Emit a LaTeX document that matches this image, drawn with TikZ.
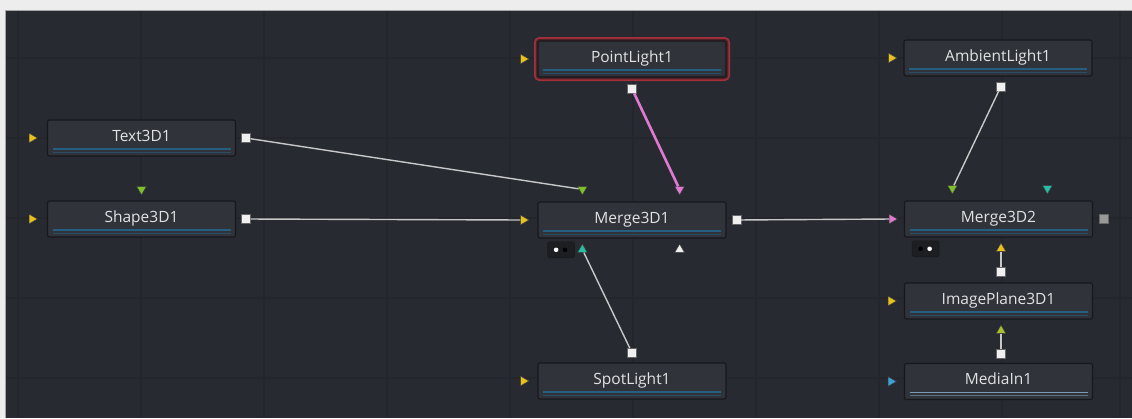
\documentclass[tikz,border=0pt]{standalone}
\usepackage{fontspec}
\setmainfont{Open Sans}
\usetikzlibrary{positioning,shapes.geometric,calc}
\definecolor{frame}{HTML}{EDEDED}
\definecolor{panel}{HTML}{272A31}
\definecolor{gridline}{HTML}{24262C}
\definecolor{nodefill}{HTML}{30333A}
\definecolor{nodeedge}{HTML}{17181C}
\definecolor{viewfill}{HTML}{1D1E22}
\definecolor{nodetext}{HTML}{E2E2E2}
\definecolor{toolbar}{HTML}{245E80}
\definecolor{mediabar}{HTML}{7C9AB4}
\definecolor{selred}{HTML}{A0303A}
\definecolor{linkgray}{HTML}{C8C8C8}
\definecolor{portyellow}{HTML}{E8C11C}
\definecolor{portgreen}{HTML}{7CC02A}
\definecolor{portpink}{HTML}{E07AD0}
\definecolor{portteal}{HTML}{26BFA4}
\definecolor{portlime}{HTML}{A8C030}
\definecolor{portblue}{HTML}{3AA0D8}

\begin{document}
\begin{tikzpicture}[x=1pt, y=-1pt,
  tool/.style={rectangle, rounded corners=2pt, draw=nodeedge, line width=1.2pt, fill=nodefill,
    minimum width=188pt, minimum height=36pt, text=nodetext, text height=11pt, text depth=5pt,
    font=\fontsize{15.5}{17}\selectfont,
    path picture={\draw[#1, line width=1.8pt] ([xshift=5pt,yshift=7pt]path picture bounding box.south west) -- ([xshift=-5pt,yshift=7pt]path picture bounding box.south east);
                  \draw[#1!60!nodefill, line width=0.8pt] ([xshift=5pt,yshift=4pt]path picture bounding box.south west) -- ([xshift=-5pt,yshift=4pt]path picture bounding box.south east);}},
  tool/.default=toolbar,
  selected/.style={preaction={draw=selred, line width=8pt}, preaction={draw=nodeedge!60!selred, line width=4.5pt}},
  port/.style={regular polygon, regular polygon sides=3, minimum size=11pt, inner sep=0pt, fill=#1, draw=black!75, line width=0.5pt},
  inport/.style={port=#1, shape border rotate=-90},
  downport/.style={port=#1, shape border rotate=180},
  upport/.style={port=#1},
  outport/.style={rectangle, minimum size=9pt, inner sep=0pt, fill=#1, draw=black!60, line width=0.4pt},
  outport/.default=white!94!black,
  viewbox/.style 2 args={rectangle, rounded corners=1.5pt, fill=viewfill, draw=nodeedge, minimum width=27pt, minimum height=16pt,
    path picture={\fill[#1] ([xshift=-5pt]path picture bounding box.center) circle (2.3pt);
                  \fill[#2] ([xshift=4pt]path picture bounding box.center) circle (2.3pt);}},
  link/.style={draw=linkgray, line width=1.4pt},
  lightlink/.style={draw=portpink, line width=2.6pt}
]
\useasboundingbox (0,0) rectangle (1132,418);
\fill[frame] (0,0) rectangle (1132,418);
\fill[panel] (5,10) rectangle (1132,418);
\draw[black!35, line width=0.8pt] (5,418) -- (5,10) -- (1132,10);
\foreach \gx in {18,141,264,387,510,633,756,879,1002,1120}
  \draw[gridline, line width=2pt] (\gx,11) -- (\gx,418);
\foreach \gy in {58,138,218,298,378}
  \draw[gridline, line width=2pt] (6,\gy) -- (1132,\gy);

% tools
\node[tool] (text) at (141.5,138) {Text3D1};
\node[tool] (shape) at (141.5,219) {Shape3D1};
\node[tool, selected] (point) at (632,59) {PointLight1};
\node[tool] (merge1) at (632,220) {Merge3D1};
\node[tool] (spot) at (632,381) {SpotLight1};
\node[tool] (ambient) at (998,58) {AmbientLight1};
\node[tool] (merge2) at (998.5,219) {Merge3D2};
\node[tool] (image) at (998.5,301) {ImagePlane3D1};
\node[tool=mediabar] (media) at (998.5,381.5) {MediaIn1};

% ports
\node[inport=portyellow, left=9pt of text] (text-in) {};
\node[outport, right=5pt of text] (text-out) {};
\node[inport=portyellow, left=9pt of shape] (shape-in) {};
\node[outport, right=5pt of shape] (shape-out) {};
\node[downport=portgreen, above=5pt of shape] (shape-top) {};

\node[inport=portyellow, left=8pt of point] (point-in) {};
\node[outport, below=6.5pt of point] (point-out) {};

\node[inport=portyellow, left=8pt of merge1] (merge1-bg) {};
\node[downport=portgreen, above=6pt of merge1.north west, xshift=45pt] (merge1-fg) {};
\node[downport=portpink, above=6pt of merge1.north east, xshift=-47pt] (merge1-lt) {};
\node[upport=portteal, below=5pt of merge1.south west, xshift=45pt] (merge1-sp) {};
\node[upport=white!94!black, below=5pt of merge1.south east, xshift=-47pt] (merge1-cam) {};
\node[outport, right=5pt of merge1] (merge1-out) {};
\node[viewbox={white}{black}, below=3pt of merge1.south west, anchor=north west, xshift=10pt] (merge1-view) {};

\node[inport=portyellow, left=8pt of spot] (spot-in) {};
\node[outport, above=5pt of spot] (spot-out) {};

\node[inport=portyellow, left=6pt of ambient] (ambient-in) {};
\node[outport, below=5pt of ambient, xshift=3pt] (ambient-out) {};

\node[inport=portpink, left=6pt of merge2] (merge2-bg) {};
\node[downport=portgreen, above=6pt of merge2.north west, xshift=48.5pt] (merge2-fg) {};
\node[downport=portteal, above=6pt of merge2.north west, xshift=143.5pt] (merge2-top) {};
\node[upport=portyellow, below=5pt of merge2, xshift=2.5pt] (merge2-img) {};
\node[outport=black!40!white, right=6pt of merge2] (merge2-out) {};
\node[viewbox={black}{white}, below=3pt of merge2.south west, anchor=north west, xshift=8pt] (merge2-view) {};

\node[inport=portyellow, left=7pt of image] (image-in) {};
\node[outport, above=6pt of image, xshift=2.5pt] (image-out) {};
\node[upport=portlime, below=5pt of image, xshift=2.5pt] (image-tex) {};

\node[inport=portblue, left=7pt of media] (media-in) {};
\node[outport, above=5pt of media, xshift=2.5pt] (media-out) {};

% links
\draw[link] (text-out) -- (merge1-fg);
\draw[link] (shape-out) -- (merge1-bg);
\draw[lightlink] (point-out) -- (merge1-lt);
\draw[link] (spot-out) -- (merge1-sp);
\draw[link] (merge1-out) -- (merge2-bg);
\draw[link] (ambient-out) -- (merge2-fg);
\draw[link] (image-out) -- (merge2-img);
\draw[link] (media-out) -- (image-tex);
\end{tikzpicture}
\end{document}
